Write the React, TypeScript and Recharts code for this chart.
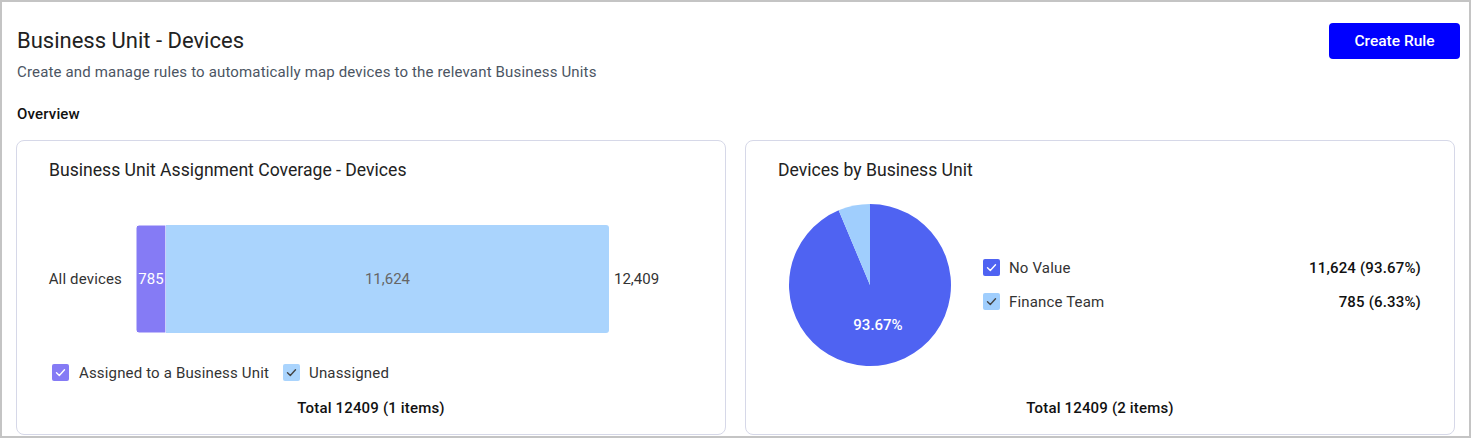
import { BarChart, Bar, XAxis, YAxis, LabelList, PieChart, Pie, Cell } from 'recharts';

// coverage bar
const coverageCategories = ['All devices'];
const assignedValues = [785];
const unassignedValues = [11624];

// pie by business unit
const unitNames = ['No Value', 'Finance Team'];
const unitValues = [11624, 785];

const FONT = 'Roboto, "Open Sans", Arial, sans-serif';
const PURPLE = '#857bf5';
const LIGHT_BLUE = '#aad4fd';
const BLUE = '#4f63f2';
const PIE_LIGHT = '#a0cefd';
const LS = '0.16px';

const fmt = (n: number) => n.toLocaleString('en-US');

function Check({ color, dark, x, y }: { color: string; dark?: boolean; x: number; y: number }) {
  return (
    <svg width={17} height={17} style={{ position: 'absolute', left: x, top: y }}>
      <rect x={0} y={0} width={17} height={17} rx={2} fill={color} />
      <path
        d="M4.5 8.8 L7.3 11.5 L12.5 5.8"
        fill="none"
        stroke={dark ? '#444' : '#fff'}
        strokeWidth={1.4}
        strokeLinecap="round"
        strokeLinejoin="round"
      />
    </svg>
  );
}

export default function App() {
  const coverageData = coverageCategories.map((name, i) => ({
    name,
    assigned: assignedValues[i],
    unassigned: unassignedValues[i],
    total: assignedValues[i] + unassignedValues[i],
  }));
  const pieTotal = unitValues.reduce((a, b) => a + b, 0);
  const pieData = unitNames.map((name, i) => ({ name, value: unitValues[i] }));
  const pieColors = [BLUE, PIE_LIGHT];

  const card: React.CSSProperties = {
    position: 'absolute',
    top: 140,
    width: 710,
    height: 295,
    border: '1px solid #d6d8e8',
    borderRadius: 8,
    boxSizing: 'border-box',
    background: '#fff',
  };
  const small: React.CSSProperties = { position: 'absolute', fontSize: 15, lineHeight: '20px', letterSpacing: LS };

  const renderPieLabel = (props: any) => {
    const { cx, cy, midAngle, innerRadius, outerRadius, percent, index } = props;
    if (index !== 0) return null;
    const RAD = Math.PI / 180;
    const r = innerRadius + (outerRadius - innerRadius) * 0.5;
    const x = cx + r * Math.cos(-midAngle * RAD);
    const y = cy + r * Math.sin(-midAngle * RAD);
    return (
      <text x={x} y={y} fill="#fff" fontSize={15} fontWeight={500} textAnchor="middle" dominantBaseline="central" fontFamily={FONT}>
        {(percent * 100).toFixed(2)}%
      </text>
    );
  };

  return (
    <div
      style={{
        position: 'fixed',
        left: 0,
        top: 0,
        width: 1471,
        height: 438,
        border: '2px solid #c4c4c4',
        boxSizing: 'border-box',
        background: '#fff',
        fontFamily: FONT,
        color: '#222',
        overflow: 'hidden',
      }}
    >
      <div style={{ position: 'absolute', left: -2, top: -2, width: 1471, height: 438 }}>
        <div style={{ position: 'absolute', left: 17, top: 27, fontSize: 22, lineHeight: '28px' }}>Business Unit - Devices</div>
        <div style={{ ...small, left: 17, top: 62, color: '#4b5563' }}>
          Create and manage rules to automatically map devices to the relevant Business Units
        </div>
        <div style={{ ...small, left: 17, top: 104, fontWeight: 500, color: '#111' }}>Overview</div>
        <div
          style={{
            position: 'absolute',
            left: 1329,
            top: 23,
            width: 131,
            height: 36,
            background: '#0000ff',
            borderRadius: 4,
            color: '#fff',
            fontSize: 15.5,
            fontWeight: 500,
            lineHeight: '36px',
            textAlign: 'center',
          }}
        >
          Create Rule
        </div>

        {/* left card */}
        <div style={{ ...card, left: 16 }}>
          <div style={{ position: 'absolute', left: 32, top: 17, fontSize: 17.6, lineHeight: '24px' }}>
            Business Unit Assignment Coverage - Devices
          </div>
          <div style={{ position: 'absolute', left: 23, top: 59 }}>
            <BarChart
              width={640}
              height={158}
              data={coverageData}
              layout="vertical"
              margin={{ top: 0, right: 71, bottom: 0, left: 0 }}
            >
              <XAxis type="number" hide domain={[0, 'dataMax']} />
              <YAxis
                type="category"
                dataKey="name"
                width={96}
                axisLine={false}
                tickLine={false}
                tick={{ fill: '#333', fontSize: 15, fontFamily: FONT, letterSpacing: LS }}
                tickMargin={8}
              />
              <Bar dataKey="assigned" stackId="a" fill={PURPLE} barSize={108} radius={[3, 0, 0, 3]} stroke="#fff" strokeWidth={1} isAnimationActive={false}>
                <LabelList dataKey="assigned" position="center" fill="#fff" fontSize={15} fontFamily={FONT} formatter={(v: any) => fmt(v)} />
              </Bar>
              <Bar dataKey="unassigned" stackId="a" fill={LIGHT_BLUE} barSize={108} radius={[0, 3, 3, 0]} isAnimationActive={false}>
                <LabelList dataKey="unassigned" position="center" fill="#666" fontSize={15} fontFamily={FONT} formatter={(v: any) => fmt(v)} />
                <LabelList dataKey="total" position="right" offset={5} fill="#333" fontSize={15} fontFamily={FONT} formatter={(v: any) => fmt(v)} />
              </Bar>
            </BarChart>
          </div>
          <Check color={PURPLE} x={35} y={223} />
          <div style={{ ...small, left: 62, top: 222, color: '#333' }}>Assigned to a Business Unit</div>
          <Check color={LIGHT_BLUE} dark x={266} y={223} />
          <div style={{ ...small, left: 292, top: 222, color: '#333' }}>Unassigned</div>
          <div style={{ ...small, left: 0, width: 708, top: 257, textAlign: 'center', fontWeight: 500, color: '#111' }}>
            Total {assignedValues[0] + unassignedValues[0]} ({coverageData.length} items)
          </div>
        </div>

        {/* right card */}
        <div style={{ ...card, left: 745 }}>
          <div style={{ position: 'absolute', left: 32, top: 17, fontSize: 17.6, lineHeight: '24px' }}>Devices by Business Unit</div>
          <div style={{ position: 'absolute', left: 34, top: 54 }}>
            <PieChart width={180} height={180} margin={{ top: 0, right: 0, bottom: 0, left: 0 }}>
              <Pie
                data={pieData}
                dataKey="value"
                nameKey="name"
                cx={90}
                cy={90}
                outerRadius={81}
                startAngle={90}
                endAngle={-270}
                stroke="none"
                labelLine={false}
                label={renderPieLabel}
                isAnimationActive={false}
              >
                {pieData.map((d, i) => (
                  <Cell key={d.name} fill={pieColors[i]} />
                ))}
              </Pie>
            </PieChart>
          </div>
          {pieData.map((d, i) => (
            <div key={d.name}>
              <Check color={pieColors[i]} dark={i === 1} x={237} y={118 + i * 34} />
              <div style={{ ...small, left: 263, top: 117 + i * 34, color: '#333' }}>{d.name}</div>
              <div style={{ ...small, right: 33, top: 117 + i * 34, fontWeight: 500, color: '#111' }}>
                {fmt(d.value)} ({((d.value / pieTotal) * 100).toFixed(2)}%)
              </div>
            </div>
          ))}
          <div style={{ ...small, left: 0, width: 708, top: 257, textAlign: 'center', fontWeight: 500, color: '#111' }}>
            Total {pieTotal} ({pieData.length} items)
          </div>
        </div>
      </div>
    </div>
  );
}
